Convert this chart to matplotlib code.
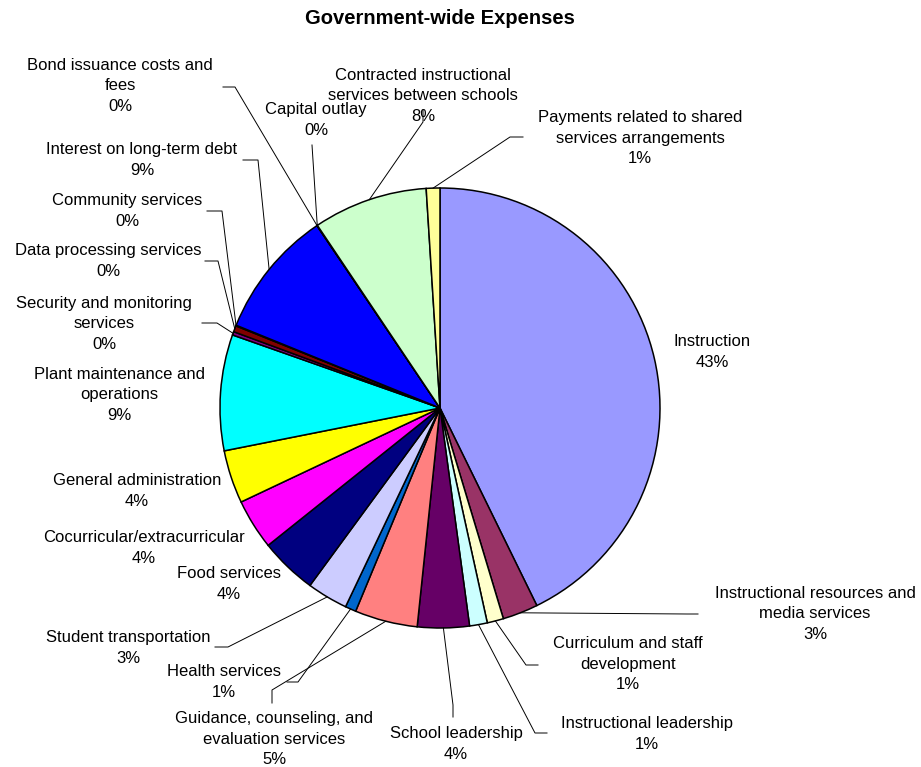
import numpy as np
import matplotlib
matplotlib.use("Agg")
import matplotlib.pyplot as plt

# --- data: slices clockwise from 12 o'clock ---
labels = [
    "Instruction",
    "Instructional resources and\nmedia services",
    "Curriculum and staff\ndevelopment",
    "Instructional leadership",
    "School leadership",
    "Guidance, counseling, and\nevaluation services",
    "Health services",
    "Student transportation",
    "Food services",
    "Cocurricular/extracurricular",
    "General administration",
    "Plant maintenance and\noperations",
    "Security and monitoring\nservices",
    "Data processing services",
    "Community services",
    "Interest on long-term debt",
    "Bond issuance costs and\nfees",
    "Capital outlay",
    "Contracted instructional\nservices between schools",
    "Payments related to shared\nservices arrangements",
]
values = [42.7, 2.6, 1.2, 1.3, 3.8, 4.6, 0.8, 3.0, 4.2, 3.7, 3.9, 8.5,
          0.25, 0.45, 0.05, 9.4, 0.02, 0.02, 8.4, 1.0]
colors = ["#9999FF", "#993366", "#FFFFCC", "#CCFFFF", "#660066", "#FF8080",
          "#0066CC", "#CCCCFF", "#000080", "#FF00FF", "#FFFF00", "#00FFFF",
          "#800080", "#800000", "#008080", "#0000FF", "#FFFFFF", "#FFFFFF",
          "#CCFFCC", "#FFFF99"]

# --- layout (pixel coords of the 921x767 canvas, y down) ---
W, H = 921, 767
CX, CY, R = 440, 408, 220
label_xy = [(712, 352), (815, 614), (628, 664), (647, 734), (456, 744),
            (274, 739), (224, 682), (128, 648), (229, 584), (144, 548),
            (137, 491), (119, 395), (104, 324), (108, 261), (127, 211),
            (142, 160), (120, 86), (316, 120), (423, 96), (640, 138)]
leaders = [None, [(687, 614), (698, 614)], [(526, 665), (538, 665)],
           [(535, 733), (547, 733)], [(453, 705), (453, 717)],
           [(272, 690), (272, 703)], [(298, 682), (287, 682)],
           [(228, 647), (215, 647)], None, None, None, None,
           [(217, 323), (202, 323)], [(218, 261), (205, 261)],
           [(222, 211), (207, 211)], [(258, 160), (243, 160)],
           [(235, 87), (223, 87)], [(312, 145)],
           [(423, 122), (423, 110)], [(510, 137), (523, 137)]]


def px(x, y):
    return x, H - y


plt.rcParams['font.family'] = ['Liberation Sans', 'DejaVu Sans']

fig = plt.figure(figsize=(W / 100, H / 100), dpi=100)
ax = fig.add_axes([0, 0, 1, 1])

total = sum(values)
wedges, _ = ax.pie(values, colors=colors, startangle=90, counterclock=False,
                   center=px(CX, CY), radius=R,
                   wedgeprops=dict(edgecolor="black", linewidth=1.1))

for i, w in enumerate(wedges):
    pct = f"{values[i] / total * 100:.0f}%"
    lx, ly = label_xy[i]
    ax.text(*px(lx, ly), f"{labels[i]}\n{pct}", ha="center", va="center",
            fontsize=12, linespacing=1.42, color="black")
    if leaders[i] is not None:
        mid = np.deg2rad((w.theta1 + w.theta2) / 2)
        cx, cy = px(CX, CY)
        xs = [cx + R * np.cos(mid)] + [p[0] for p in leaders[i]]
        ys = [cy + R * np.sin(mid)] + [H - p[1] for p in leaders[i]]
        ax.plot(xs, ys, color="black", linewidth=0.7)

ax.text(*px(440, 18), "Government-wide Expenses", ha="center", va="center",
        fontsize=14.5, fontweight="bold")

ax.set_xlim(0, W)
ax.set_ylim(0, H)
ax.axis("off")
fig.savefig("out.png", dpi=100)
